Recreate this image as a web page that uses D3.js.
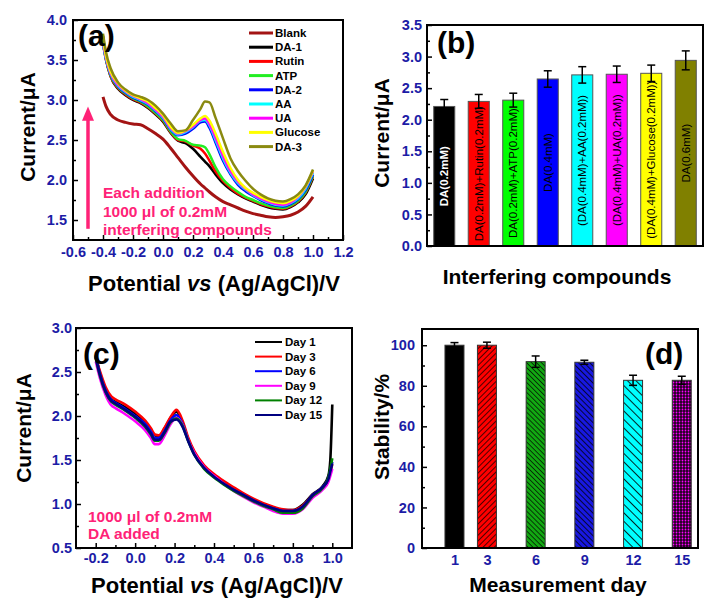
<!DOCTYPE html>
<html>
<head>
<meta charset="utf-8">
<script src="https://cdn.jsdelivr.net/npm/d3@7"></script>
<style>
body { margin: 0; background: #fff; }
text { font-family: "Liberation Sans", Arial, sans-serif; }
</style>
</head>
<body>
<svg id="fig" width="714" height="608"></svg>
<script>
// ---------- panel (a) : interference CVs ----------
const potA = [-0.4, -0.38, -0.35, -0.3, -0.25, -0.2, -0.15, -0.1, -0.05, 0, 0.05, 0.1, 0.15, 0.2, 0.25, 0.28, 0.31, 0.35, 0.4, 0.45, 0.5, 0.55, 0.6, 0.65, 0.7, 0.75, 0.8, 0.85, 0.9, 0.95, 1.0];
const namesA = ["Blank", "DA-1", "Rutin", "ATP", "DA-2", "AA", "UA", "Glucose", "DA-3"];
const colorsA = ["#a31414", "#000000", "#ff0000", "#22ee22", "#0000ff", "#00ffff", "#ff00ff", "#ffff00", "#8a8a10"];
const blankA   = [3.04, 2.92, 2.82, 2.75, 2.72, 2.70, 2.69, 2.64, 2.58, 2.51, 2.40, 2.28, 2.16, 2.05, 1.95, 1.90, 1.85, 1.79, 1.73, 1.69, 1.65, 1.61, 1.58, 1.56, 1.54, 1.53, 1.54, 1.56, 1.60, 1.67, 1.79];
const da1A     = [3.80, 3.52, 3.30, 3.14, 3.06, 3.00, 2.96, 2.90, 2.82, 2.73, 2.59, 2.49, 2.46, 2.39, 2.29, 2.23, 2.17, 2.07, 1.96, 1.88, 1.82, 1.77, 1.73, 1.69, 1.66, 1.64, 1.63, 1.66, 1.72, 1.82, 2.02];
const rutinA   = [3.72, 3.50, 3.30, 3.15, 3.07, 3.01, 2.97, 2.91, 2.83, 2.74, 2.60, 2.50, 2.48, 2.43, 2.39, 2.33, 2.24, 2.11, 1.99, 1.90, 1.83, 1.78, 1.74, 1.70, 1.67, 1.65, 1.64, 1.67, 1.73, 1.84, 2.04];
const atpA     = [3.70, 3.50, 3.31, 3.16, 3.08, 3.02, 2.98, 2.92, 2.84, 2.75, 2.61, 2.51, 2.49, 2.44, 2.43, 2.41, 2.32, 2.16, 2.01, 1.92, 1.85, 1.79, 1.75, 1.71, 1.68, 1.66, 1.65, 1.68, 1.74, 1.85, 2.05];
const da2A     = [3.70, 3.51, 3.32, 3.17, 3.09, 3.03, 2.99, 2.94, 2.86, 2.77, 2.63, 2.56, 2.58, 2.64, 2.72, 2.73, 2.65, 2.47, 2.24, 2.07, 1.94, 1.86, 1.80, 1.75, 1.71, 1.68, 1.67, 1.70, 1.76, 1.87, 2.07];
const aaA      = [3.71, 3.52, 3.33, 3.18, 3.10, 3.04, 3.00, 2.95, 2.87, 2.78, 2.64, 2.57, 2.60, 2.66, 2.74, 2.75, 2.68, 2.50, 2.27, 2.09, 1.96, 1.88, 1.81, 1.76, 1.72, 1.69, 1.68, 1.71, 1.77, 1.89, 2.09];
const uaA      = [3.72, 3.53, 3.34, 3.19, 3.11, 3.05, 3.01, 2.96, 2.88, 2.79, 2.65, 2.58, 2.61, 2.67, 2.75, 2.77, 2.70, 2.53, 2.30, 2.11, 1.98, 1.89, 1.82, 1.77, 1.73, 1.70, 1.69, 1.72, 1.79, 1.91, 2.11];
const glucoseA = [3.76, 3.55, 3.36, 3.21, 3.12, 3.06, 3.02, 2.98, 2.90, 2.81, 2.67, 2.59, 2.62, 2.69, 2.77, 2.80, 2.74, 2.58, 2.35, 2.15, 2.00, 1.90, 1.84, 1.79, 1.75, 1.72, 1.71, 1.74, 1.80, 1.92, 2.12];
const da3A     = [3.83, 3.60, 3.40, 3.22, 3.13, 3.07, 3.04, 3.00, 2.93, 2.83, 2.71, 2.61, 2.62, 2.75, 2.89, 2.98, 2.97, 2.78, 2.52, 2.27, 2.11, 1.99, 1.89, 1.82, 1.77, 1.74, 1.73, 1.76, 1.82, 1.93, 2.13];
const curvesA = [blankA, da1A, rutinA, atpA, da2A, aaA, uaA, glucoseA, da3A];

// ---------- panel (b) : bar currents ----------
const labelsB = ["DA(0.2mM)", "DA(0.2mM)+Rutin(0.2mM)", "DA(0.2mM)+ATP(0.2mM)", "DA(0.4mM)", "(DA(0.4mM)+AA(0.2mM))", "(DA(0.4mM)+UA(0.2mM))", "(DA(0.4mM)+Glucose(0.2mM))", "DA(0.6mM)"];
const valuesB = [2.21, 2.29, 2.31, 2.645, 2.71, 2.72, 2.735, 2.94];
const errorsB = [0.11, 0.11, 0.11, 0.13, 0.13, 0.13, 0.13, 0.15];
const colorsB = ["#000000", "#ff0000", "#00ff00", "#0000ff", "#00ffff", "#ff00ff", "#ffff00", "#808000"];

// ---------- panel (c) : stability CVs ----------
const potC = [-0.2, -0.18, -0.15, -0.12, -0.1, -0.05, 0, 0.05, 0.08, 0.1, 0.12, 0.15, 0.18, 0.21, 0.24, 0.27, 0.3, 0.35, 0.4, 0.45, 0.5, 0.55, 0.6, 0.65, 0.7, 0.75, 0.8, 0.85, 0.9, 0.95, 0.98, 0.99, 1.0];
const namesC = ["Day 1", "Day 3", "Day 6", "Day 9", "Day 12", "Day 15"];
const colorsC = ["#000000", "#ff0000", "#0000ff", "#ff00ff", "#008000", "#000080"];
const day1C  = [2.69, 2.50, 2.30, 2.19, 2.16, 2.10, 2.03, 1.93, 1.84, 1.78, 1.77, 1.86, 1.98, 2.05, 1.93, 1.73, 1.58, 1.42, 1.32, 1.24, 1.17, 1.11, 1.05, 1.00, 0.96, 0.93, 0.93, 0.99, 1.11, 1.20, 1.32, 1.50, 2.13];
const day3C  = [2.66, 2.52, 2.33, 2.22, 2.19, 2.13, 2.05, 1.95, 1.86, 1.79, 1.78, 1.87, 1.99, 2.07, 1.95, 1.75, 1.60, 1.44, 1.34, 1.26, 1.19, 1.12, 1.06, 1.01, 0.97, 0.94, 0.93, 0.98, 1.10, 1.19, 1.28, 1.36, 1.45];
const day6C  = [2.68, 2.49, 2.29, 2.18, 2.15, 2.08, 2.00, 1.91, 1.82, 1.75, 1.75, 1.83, 1.95, 2.01, 1.91, 1.72, 1.57, 1.41, 1.31, 1.23, 1.16, 1.10, 1.04, 0.99, 0.95, 0.92, 0.92, 0.97, 1.10, 1.19, 1.29, 1.38, 1.48];
const day9C  = [2.62, 2.44, 2.24, 2.12, 2.09, 2.02, 1.94, 1.84, 1.75, 1.68, 1.68, 1.78, 1.91, 1.98, 1.90, 1.72, 1.58, 1.42, 1.32, 1.23, 1.15, 1.08, 1.02, 0.97, 0.92, 0.89, 0.89, 0.94, 1.07, 1.16, 1.25, 1.32, 1.40];
const day12C = [2.66, 2.47, 2.27, 2.16, 2.13, 2.06, 1.98, 1.88, 1.79, 1.72, 1.72, 1.81, 1.93, 1.97, 1.89, 1.71, 1.56, 1.40, 1.30, 1.22, 1.15, 1.09, 1.03, 0.98, 0.94, 0.90, 0.90, 0.95, 1.09, 1.18, 1.30, 1.40, 1.52];
const day15C = [2.67, 2.48, 2.28, 2.17, 2.14, 2.07, 1.99, 1.89, 1.80, 1.73, 1.73, 1.82, 1.94, 1.96, 1.88, 1.71, 1.56, 1.41, 1.31, 1.23, 1.16, 1.10, 1.04, 0.99, 0.95, 0.92, 0.92, 0.97, 1.10, 1.19, 1.28, 1.37, 1.46];
const curvesC = [day1C, day3C, day6C, day9C, day12C, day15C];

// ---------- panel (d) : stability bars ----------
const daysD = [1, 3, 6, 9, 12, 15];
const valuesD = [100, 100, 91.9, 91.6, 82.7, 82.7];
const errorsD = [1.3, 1.5, 2.8, 1.0, 2.5, 2.0];

const svg = d3.select("#fig");
const tickBlue = "#1c1ca6";
const pink = "#ff2277";
const font = '"Liberation Sans", Arial, sans-serif';

// inward ticks + frame, Origin style
function axes(g, x, y, o) {
  const [xl, xr] = x.range(), [yb, yt] = y.range();
  if (o.yMinor) g.append("g").attr("transform", `translate(${xl},0)`)
    .call(d3.axisLeft(y).tickValues(o.yMinor).tickSize(-3).tickFormat(""));
  g.append("g").attr("class", "lab").attr("transform", `translate(${xl},0)`)
    .call(d3.axisLeft(y).tickValues(o.yTicks).tickSize(-5).tickPadding(o.yPad).tickFormat(o.yFmt));
  if (o.xMinor) g.append("g").attr("transform", `translate(0,${yb})`)
    .call(d3.axisBottom(x).tickValues(o.xMinor).tickSize(-3).tickFormat(""));
  if (o.xTicks) g.append("g").attr("class", "lab").attr("transform", `translate(0,${yb})`)
    .call(d3.axisBottom(x).tickValues(o.xTicks).tickSize(o.xSize).tickPadding(o.xPad).tickFormat(o.xFmt));
  g.selectAll(".domain").remove();
  g.selectAll(".tick line").attr("stroke", "#000").attr("stroke-width", 1.5);
  g.selectAll(".lab text").attr("fill", tickBlue).attr("font-size", 14.5)
    .attr("font-weight", "bold").attr("font-family", font);
  g.append("rect").attr("x", xl).attr("y", yt).attr("width", xr - xl).attr("height", yb - yt)
    .attr("fill", "none").attr("stroke", "#000").attr("stroke-width", 2);
}

function yTitle(g, x, y, txt) {
  g.append("text").attr("transform", `translate(${x},${y}) rotate(-90)`)
    .attr("text-anchor", "middle").attr("dy", "0.35em")
    .attr("font-size", 21).attr("font-weight", "bold").text(txt);
}
function potTitle(g, x, y) {
  const t = g.append("text").attr("x", x).attr("y", y).attr("text-anchor", "middle")
    .attr("font-size", 22).attr("font-weight", "bold");
  t.append("tspan").text("Potential ");
  t.append("tspan").attr("font-style", "italic").text("vs");
  t.append("tspan").text(" (Ag/AgCl)/V");
}
function panelTag(g, x, y, txt) {
  g.append("text").attr("x", x).attr("y", y).attr("font-size", 30)
    .attr("font-weight", "bold").text(txt);
}
const f1 = d => d.toFixed(1);

// ================= (a) =================
{
  const g = svg.append("g");
  const x = d3.scaleLinear().domain([-0.6, 1.2]).range([73, 343]);
  const y = d3.scaleLinear().domain([1.25, 4.0]).range([240, 20]);
  const line = d3.line().x((d, i) => x(potA[i])).y(d => y(d)).curve(d3.curveMonotoneX);
  g.selectAll("path.cv").data(curvesA).join("path")
    .attr("d", line).attr("fill", "none")
    .attr("stroke", (d, i) => colorsA[i])
    .attr("stroke-width", (d, i) => i === 0 ? 3 : 2.5);

  // legend
  namesA.forEach((n, i) => {
    const ly = 33 + i * 14.2;
    g.append("line").attr("x1", 249).attr("x2", 273).attr("y1", ly).attr("y2", ly)
      .attr("stroke", colorsA[i]).attr("stroke-width", 3);
    g.append("text").attr("x", 275).attr("y", ly).attr("dy", "0.35em")
      .attr("font-size", 11.5).attr("font-weight", "bold").text(n);
  });

  // arrow + note
  const ax = x(-0.5);
  g.append("line").attr("x1", ax).attr("x2", ax).attr("y1", y(1.39)).attr("y2", y(2.78))
    .attr("stroke", pink).attr("stroke-width", 3.5);
  g.append("path").attr("d", `M${ax},${y(2.92)} L${ax - 6},${y(2.74)} L${ax + 6},${y(2.74)} Z`).attr("fill", pink);
  ["Each addition", "1000 μl of 0.2mM", "interfering compounds"].forEach((t, i) => {
    g.append("text").attr("x", 103).attr("y", 198 + i * 18.5).attr("fill", pink)
      .attr("font-size", 15.5).attr("font-weight", "bold").text(t);
  });

  axes(g, x, y, {
    yTicks: [1.5, 2.0, 2.5, 3.0, 3.5, 4.0], yMinor: [1.75, 2.25, 2.75, 3.25, 3.75], yPad: 6, yFmt: f1,
    xTicks: [-0.6, -0.4, -0.2, 0, 0.2, 0.4, 0.6, 0.8, 1.0, 1.2], xMinor: [-0.5, -0.3, -0.1, 0.1, 0.3, 0.5, 0.7, 0.9, 1.1],
    xSize: -5, xPad: 7, xFmt: f1
  });
  panelTag(g, 78, 46, "(a)");
  yTitle(g, 28, 127, "Current/μA");
  potTitle(g, 214, 291);
}

// ================= (b) =================
{
  const g = svg.append("g");
  const x = d3.scaleBand().domain(d3.range(labelsB.length)).range([427, 703]).paddingInner(0.39).paddingOuter(0.195);
  const y = d3.scaleLinear().domain([0, 3.5]).range([246, 25]);
  const bw = x.bandwidth();
  g.selectAll("rect.bar").data(valuesB).join("rect")
    .attr("x", (d, i) => x(i)).attr("y", d => y(d)).attr("width", bw).attr("height", d => y(0) - y(d))
    .attr("fill", (d, i) => colorsB[i]).attr("stroke", "#555").attr("stroke-width", 1);
  // error bars
  valuesB.forEach((v, i) => {
    const cx = x(i) + bw / 2;
    g.append("line").attr("x1", cx).attr("x2", cx).attr("y1", y(v - errorsB[i])).attr("y2", y(v + errorsB[i]))
      .attr("stroke", "#000").attr("stroke-width", 1.5);
    [v - errorsB[i], v + errorsB[i]].forEach(e => g.append("line")
      .attr("x1", cx - 4).attr("x2", cx + 4).attr("y1", y(e)).attr("y2", y(e))
      .attr("stroke", "#000").attr("stroke-width", 1.5));
  });
  // rotated labels inside bars
  labelsB.forEach((t, i) => {
    const cx = x(i) + bw / 2 + 4;
    const txt = g.append("text").attr("text-anchor", "middle").attr("font-size", 11.5)
      .attr("fill", i === 0 ? "#fff" : "#000").attr("font-weight", i === 0 ? "bold" : "normal").text(t);
    let cy = (y(valuesB[i]) + y(0)) / 2;
    const L = txt.node().getComputedTextLength();
    if (cy + L / 2 > y(0) - 3) cy = y(0) - 3 - L / 2;
    txt.attr("transform", `translate(${cx},${cy}) rotate(-90)`);
  });
  axes(g, d3.scaleLinear().range([427, 703]), y, {
    yTicks: [0, 0.5, 1.0, 1.5, 2.0, 2.5, 3.0, 3.5], yMinor: [0.25, 0.75, 1.25, 1.75, 2.25, 2.75, 3.25], yPad: 5, yFmt: f1
  });
  panelTag(g, 437, 53, "(b)");
  yTitle(g, 382, 133, "Current/μA");
  g.append("text").attr("x", 557).attr("y", 284).attr("text-anchor", "middle")
    .attr("font-size", 21).attr("font-weight", "bold").text("Interfering compounds");
}

// ================= (c) =================
{
  const g = svg.append("g");
  const x = d3.scaleLinear().domain([-0.3, 1.1]).range([76, 352]);
  const y = d3.scaleLinear().domain([0.5, 3.0]).range([548, 328]);
  const line = d3.line().x((d, i) => x(potC[i])).y(d => y(d)).curve(d3.curveMonotoneX);
  g.selectAll("path.cv").data(curvesC).join("path")
    .attr("d", line).attr("fill", "none")
    .attr("stroke", (d, i) => colorsC[i]).attr("stroke-width", 2.6);

  namesC.forEach((n, i) => {
    const ly = 342 + i * 14.6;
    g.append("line").attr("x1", 255).attr("x2", 282).attr("y1", ly).attr("y2", ly)
      .attr("stroke", colorsC[i]).attr("stroke-width", 2);
    g.append("text").attr("x", 285).attr("y", ly).attr("dy", "0.35em")
      .attr("font-size", 11.5).attr("font-weight", "bold").text(n);
  });
  ["1000 μl of 0.2mM", "DA added"].forEach((t, i) => {
    g.append("text").attr("x", 88).attr("y", 522 + i * 17).attr("fill", pink)
      .attr("font-size", 15.5).attr("font-weight", "bold").text(t);
  });

  axes(g, x, y, {
    yTicks: [0.5, 1.0, 1.5, 2.0, 2.5, 3.0], yMinor: [0.75, 1.25, 1.75, 2.25, 2.75], yPad: 4, yFmt: f1,
    xTicks: [-0.2, 0, 0.2, 0.4, 0.6, 0.8, 1.0], xMinor: [-0.1, 0.1, 0.3, 0.5, 0.7, 0.9],
    xSize: -5, xPad: 5, xFmt: f1
  });
  panelTag(g, 83, 364, "(c)");
  yTitle(g, 24, 428, "Current/μA");
  potTitle(g, 217, 593);
}

// ================= (d) =================
{
  const defs = svg.append("defs");
  function hatch(id, bg, angle, gap, sw) {
    const p = defs.append("pattern").attr("id", id).attr("patternUnits", "userSpaceOnUse")
      .attr("width", gap).attr("height", gap).attr("patternTransform", `rotate(${angle})`);
    p.append("rect").attr("width", gap).attr("height", gap).attr("fill", bg);
    p.append("line").attr("x1", 0).attr("y1", 0).attr("x2", 0).attr("y2", gap)
      .attr("stroke", "#000").attr("stroke-width", sw);
  }
  hatch("hRed", "#ff0000", 45, 4, 1.4);
  hatch("hGreen", "#12a812", -45, 3.5, 1.3);
  hatch("hBlue", "#1818e0", -45, 4, 1.5);
  hatch("hCyan", "#00ffff", -45, 6, 1.7);
  const dots = defs.append("pattern").attr("id", "hDots").attr("patternUnits", "userSpaceOnUse")
    .attr("width", 3).attr("height", 3);
  dots.append("rect").attr("width", 3).attr("height", 3).attr("fill", "#200020");
  dots.append("circle").attr("cx", 1.5).attr("cy", 1.5).attr("r", 0.9).attr("fill", "#ff00ff");
  const fillsD = ["#000000", "url(#hRed)", "url(#hGreen)", "url(#hBlue)", "url(#hCyan)", "url(#hDots)"];

  const g = svg.append("g");
  const x = d3.scaleLinear().domain([-1, 16]).range([422, 698]);
  const y = d3.scaleLinear().domain([0, 108]).range([548, 329]);
  const half = 0.585;
  g.selectAll("rect.bar").data(valuesD).join("rect")
    .attr("x", (d, i) => x(daysD[i] - half)).attr("y", d => y(d))
    .attr("width", (d, i) => x(daysD[i] + half) - x(daysD[i] - half)).attr("height", d => y(0) - y(d))
    .attr("fill", (d, i) => fillsD[i]).attr("stroke", "#333").attr("stroke-width", 1);
  valuesD.forEach((v, i) => {
    const cx = x(daysD[i]);
    g.append("line").attr("x1", cx).attr("x2", cx).attr("y1", y(v - errorsD[i])).attr("y2", y(v + errorsD[i]))
      .attr("stroke", "#000").attr("stroke-width", 1.5);
    [v - errorsD[i], v + errorsD[i]].forEach(e => g.append("line")
      .attr("x1", cx - 4).attr("x2", cx + 4).attr("y1", y(e)).attr("y2", y(e))
      .attr("stroke", "#000").attr("stroke-width", 1.5));
  });
  axes(g, x, y, {
    yTicks: [0, 20, 40, 60, 80, 100], yMinor: [10, 30, 50, 70, 90], yPad: 7, yFmt: d => d,
    xTicks: daysD, xSize: 0, xPad: 7, xFmt: d => d
  });
  panelTag(g, 645, 364, "(d)");
  yTitle(g, 382, 427, "Stability/%");
  g.append("text").attr("x", 558).attr("y", 592).attr("text-anchor", "middle")
    .attr("font-size", 21).attr("font-weight", "bold").text("Measurement day");
}
</script>
</body>
</html>
